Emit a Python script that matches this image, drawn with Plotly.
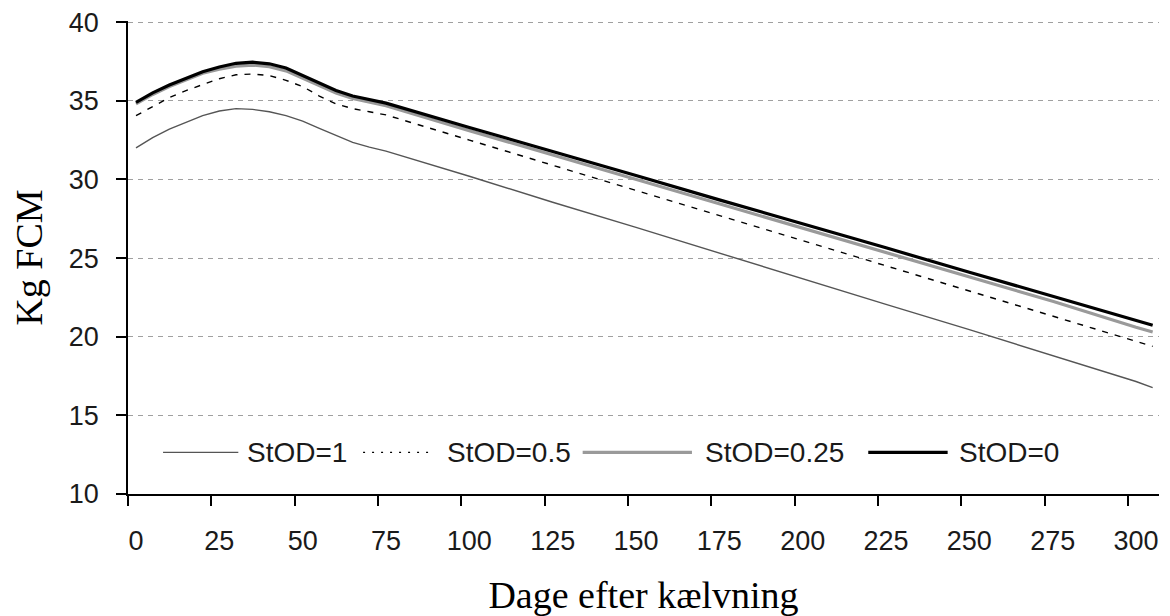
import plotly.graph_objects as go

days = [0, 5, 10, 15, 20, 25, 30, 35, 40, 45, 50, 55, 60, 65, 70, 75,
        100, 125, 150, 175, 200, 225, 250, 275, 300, 305]

stod_1 = [32.0, 32.65, 33.2, 33.65, 34.05, 34.35, 34.5, 34.45, 34.3, 34.05, 33.7, 33.25, 32.8, 32.35, 32.05, 31.8,
          30.2, 28.55, 26.95, 25.3, 23.7, 22.05, 20.45, 18.8, 17.15, 16.76]
stod_05 = [34.05, 34.65, 35.2, 35.65, 36.05, 36.4, 36.65, 36.7, 36.6, 36.3, 35.9, 35.3, 34.8, 34.5, 34.3, 34.1,
           32.5, 30.9, 29.3, 27.7, 26.1, 24.5, 22.9, 21.3, 19.7, 19.39]
stod_025 = [34.8, 35.4, 35.9, 36.35, 36.75, 37.0, 37.2, 37.27, 37.17, 36.9, 36.45, 35.98, 35.5, 35.15, 34.93, 34.68,
            33.1, 31.55, 30.0, 28.45, 26.9, 25.35, 23.8, 22.25, 20.6, 20.3]
stod_0 = [34.9, 35.5, 36.0, 36.45, 36.85, 37.15, 37.38, 37.45, 37.35, 37.08, 36.6, 36.13, 35.65, 35.3, 35.1, 34.85,
          33.3, 31.8, 30.25, 28.7, 27.2, 25.65, 24.1, 22.55, 21.05, 20.73]

series_names = ["StOD=1", "StOD=0.5", "StOD=0.25", "StOD=0"]
x_ticks = list(range(0, 301, 25))
y_ticks = [10, 15, 20, 25, 30, 35, 40]

styles = [
    dict(color="#555555", width=1.4),
    dict(color="#000000", width=1.4, dash="6px,7px"),
    dict(color="#9a9a9a", width=3.2),
    dict(color="#000000", width=3.2),
]
legend_dash = [None, "2px,7px", None, None]

# legend layout (paper coordinates of the plot area)
leg_y = 0.088
leg_sample_x = [(0.034, 0.107), (0.228, 0.293), (0.441, 0.547), (0.718, 0.795)]
leg_text_x = [0.113, 0.307, 0.558, 0.804]

fig = go.Figure()
for name, vals, st in zip(series_names, [stod_1, stod_05, stod_025, stod_0], styles):
    fig.add_trace(go.Scatter(x=days, y=vals, mode="lines", name=name, line=st, showlegend=False))

text_color = "#1a1a1a"
tick_font = dict(family="Liberation Sans, Arial", size=27, color=text_color)
title_font = dict(family="Liberation Serif, Times New Roman", size=38, color="#000000")

for name, st, ld, (x0, x1), tx in zip(series_names, styles, legend_dash, leg_sample_x, leg_text_x):
    line = dict(color=st["color"], width=st["width"])
    if ld:
        line["dash"] = ld
    fig.add_shape(type="line", xref="paper", yref="paper", x0=x0, x1=x1, y0=leg_y, y1=leg_y, line=line)
    fig.add_annotation(text=name, xref="paper", yref="paper", x=tx, y=leg_y, xanchor="left",
                       yanchor="middle", showarrow=False,
                       font=dict(family="Liberation Sans, Arial", size=28, color=text_color))

# page body has an 8px margin, so the figure is sized to fit the 1170x616 window
fig.update_layout(
    width=1162, height=608,
    margin=dict(l=120, r=11, t=13, b=122),
    plot_bgcolor="white", paper_bgcolor="white",
    showlegend=False,
)

fig.update_xaxes(
    range=[-2.4, 306.9], tickmode="array", tickvals=x_ticks,
    ticktext=[str(t) for t in x_ticks], ticks="", ticklabelstandoff=22,
    ticklabeloverflow="allow",
    showline=True, linecolor="black", linewidth=1.5, showgrid=False, zeroline=False,
    tickfont=tick_font, automargin=False,
    minor=dict(tickmode="linear", tick0=-2.4, dtick=25, ticks="outside", ticklen=10,
               tickcolor="black", tickwidth=1.5, showgrid=False),
    title=dict(text="Dage efter kælvning", font=title_font, standoff=26),
)
fig.update_yaxes(
    range=[10, 40.07], tickmode="array", tickvals=y_ticks, ticks="outside", ticklen=10,
    tickcolor="black", tickwidth=1.5, ticklabelstandoff=12, ticklabeloverflow="allow",
    showline=True, linecolor="black", linewidth=1.5, automargin=False,
    showgrid=True, gridcolor="#a0a0a0", gridwidth=1.2, griddash="5px,5px", zeroline=False,
    tickfont=tick_font,
    title=dict(text="Kg FCM", font=title_font, standoff=25),
)

fig.write_html("out.html")
